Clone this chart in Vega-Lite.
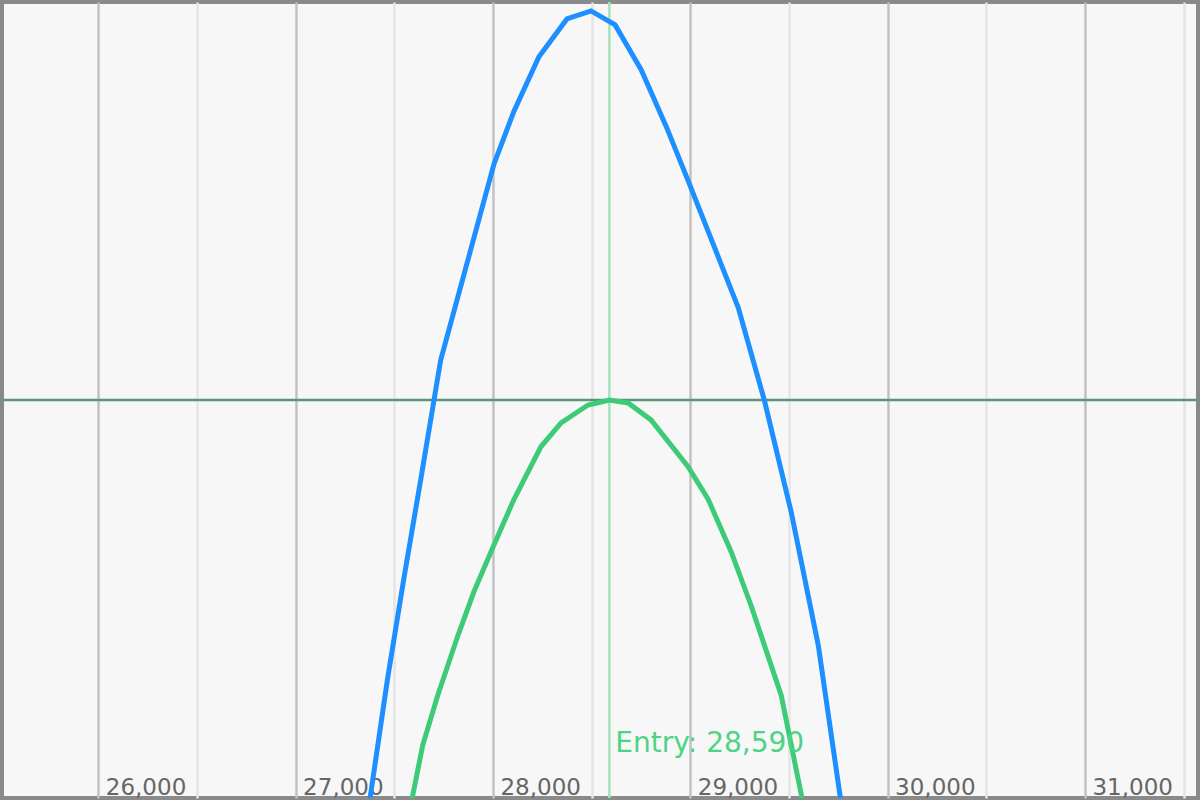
{
  "$schema": "https://vega.github.io/schema/vega-lite/v6.json",
  "width": 1200,
  "height": 800,
  "autosize": {"type": "fit", "contains": "padding"},
  "padding": 0,
  "background": "#f7f7f7",
  "config": {
    "view": {"stroke": "#8a8a8a", "strokeWidth": 4, "fill": "#f7f7f7"},
    "font": "DejaVu Sans"
  },
  "datasets": {
    "curves": [
      {"price": 27370, "pnl": -410, "series": "T+0"},
      {"price": 27466, "pnl": -280, "series": "T+0"},
      {"price": 27548, "pnl": -180, "series": "T+0"},
      {"price": 27634, "pnl": -80, "series": "T+0"},
      {"price": 27735, "pnl": 40, "series": "T+0"},
      {"price": 28005, "pnl": 237, "series": "T+0"},
      {"price": 28106, "pnl": 290, "series": "T+0"},
      {"price": 28233, "pnl": 345, "series": "T+0"},
      {"price": 28375, "pnl": 383, "series": "T+0"},
      {"price": 28497, "pnl": 391, "series": "T+0"},
      {"price": 28619, "pnl": 377, "series": "T+0"},
      {"price": 28751, "pnl": 332, "series": "T+0"},
      {"price": 28878, "pnl": 275, "series": "T+0"},
      {"price": 28994, "pnl": 218, "series": "T+0"},
      {"price": 29243, "pnl": 93, "series": "T+0"},
      {"price": 29375, "pnl": 0, "series": "T+0"},
      {"price": 29512, "pnl": -113, "series": "T+0"},
      {"price": 29649, "pnl": -247, "series": "T+0"},
      {"price": 29768, "pnl": -410, "series": "T+0"},
      {"price": 27581, "pnl": -410, "series": "Expiry"},
      {"price": 27644, "pnl": -347, "series": "Expiry"},
      {"price": 27720, "pnl": -297, "series": "Expiry"},
      {"price": 27822, "pnl": -237, "series": "Expiry"},
      {"price": 27903, "pnl": -193, "series": "Expiry"},
      {"price": 27989, "pnl": -153, "series": "Expiry"},
      {"price": 28106, "pnl": -100, "series": "Expiry"},
      {"price": 28243, "pnl": -47, "series": "Expiry"},
      {"price": 28345, "pnl": -23, "series": "Expiry"},
      {"price": 28482, "pnl": -5, "series": "Expiry"},
      {"price": 28590, "pnl": 0, "series": "Expiry"},
      {"price": 28685, "pnl": -3, "series": "Expiry"},
      {"price": 28801, "pnl": -20, "series": "Expiry"},
      {"price": 28989, "pnl": -67, "series": "Expiry"},
      {"price": 29091, "pnl": -100, "series": "Expiry"},
      {"price": 29208, "pnl": -153, "series": "Expiry"},
      {"price": 29309, "pnl": -207, "series": "Expiry"},
      {"price": 29461, "pnl": -297, "series": "Expiry"},
      {"price": 29563, "pnl": -397, "series": "Expiry"},
      {"price": 29575, "pnl": -410, "series": "Expiry"}
    ],
    "zero": [{"pnl": 0}],
    "entry": [{"price": 28590, "pnl": -354, "label": "Entry: 28,590"}]
  },
  "layer": [
    {
      "data": {"name": "zero"},
      "mark": {"type": "rule", "color": "#5a9479", "strokeWidth": 2.5},
      "encoding": {
        "y": {"field": "pnl", "type": "quantitative", "scale": {"domain": [-400, 400]}, "axis": null}
      }
    },
    {
      "data": {"name": "entry"},
      "mark": {"type": "rule", "color": "#a6e3bd", "strokeWidth": 2.5},
      "encoding": {
        "x": {"field": "price", "type": "quantitative"}
      }
    },
    {
      "data": {"name": "curves"},
      "mark": {"type": "line", "strokeWidth": 5, "clip": true},
      "encoding": {
        "x": {
          "field": "price",
          "type": "quantitative",
          "scale": {"domain": [25512, 31573], "nice": false, "zero": false},
          "axis": {
            "title": null,
            "orient": "bottom",
            "values": [26000, 26500, 27000, 27500, 28000, 28500, 29000, 29500, 30000, 30500, 31000, 31500],
            "labelExpr": "datum.value % 1000 === 0 ? format(datum.value, ',') : ''",
            "labelAlign": "left",
            "labelBaseline": "alphabetic",
            "labelPadding": -4,
            "labelOffset": 7,
            "labelFontSize": 23,
            "labelColor": "#666666",
            "labelFont": "DejaVu Sans",
            "ticks": false,
            "domain": false,
            "grid": true,
            "gridWidth": 2.5,
            "gridColor": {"condition": {"test": "datum.value % 1000 === 0", "value": "#c2c2c2"}, "value": "#e4e4e4"},
            "labelOverlap": false,
            "labelFlush": false,
            "zindex": 0
          }
        },
        "y": {"field": "pnl", "type": "quantitative", "scale": {"domain": [-400, 400]}, "axis": null},
        "color": {
          "field": "series",
          "type": "nominal",
          "scale": {"domain": ["T+0", "Expiry"], "range": ["#1e8fff", "#3ecb78"]},
          "legend": null
        }
      }
    },
    {
      "data": {"name": "entry"},
      "mark": {"type": "text", "align": "left", "baseline": "alphabetic", "dx": 6, "fontSize": 28, "color": "#4cd485", "font": "DejaVu Sans"},
      "encoding": {
        "x": {"field": "price", "type": "quantitative"},
        "y": {"field": "pnl", "type": "quantitative"},
        "text": {"field": "label"}
      }
    }
  ]
}
